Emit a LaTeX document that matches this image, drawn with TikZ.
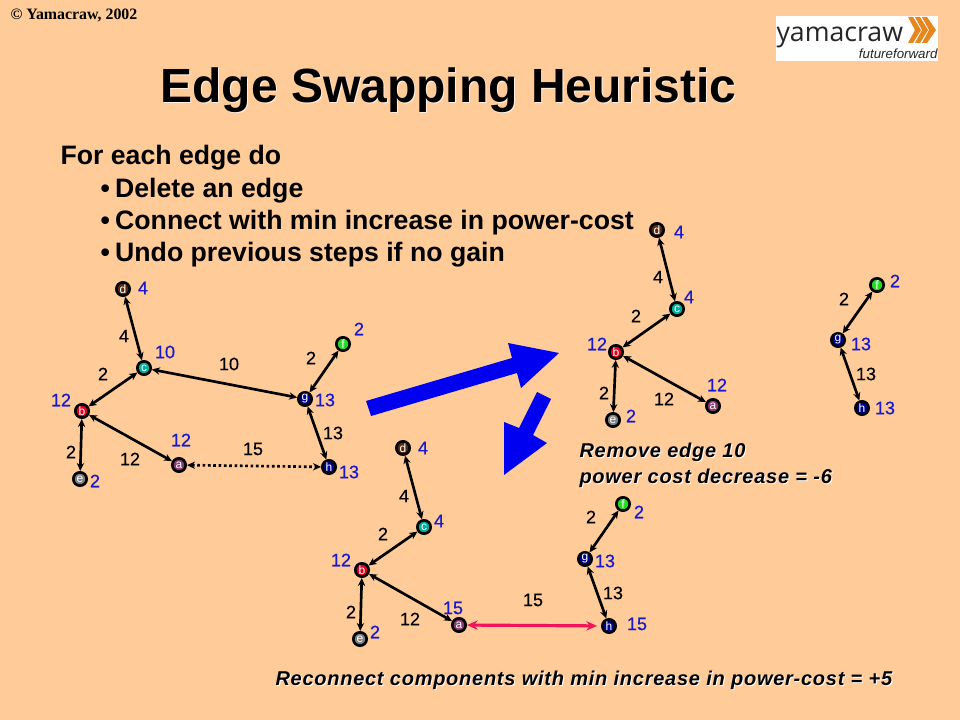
\documentclass[tikz,border=0pt]{standalone}
\usepackage{fontspec}
\setmainfont{Liberation Sans}
\newfontfamily\serifbold{Liberation Serif}
\newfontfamily\weightfont[FakeBold=0.35]{Liberation Sans}
\newfontfamily\costfont[FakeBold=0.7]{Liberation Sans}
\newfontfamily\logofont{Open Sans}
\newfontfamily\captionfont[LetterSpace=3.7]{Liberation Sans}
\usetikzlibrary{arrows.meta}
\definecolor{slidebg}{HTML}{FFCC99}
\definecolor{costblue}{HTML}{1A1ACC}
\definecolor{arrowblue}{HTML}{0000F0}
\definecolor{swapred}{HTML}{F0145A}
\definecolor{logoorange}{HTML}{E8861E}
\definecolor{cola}{HTML}{8A3A70}
\definecolor{colb}{HTML}{E00020}
\definecolor{colc}{HTML}{00B09A}
\definecolor{cold}{HTML}{5A2A10}
\definecolor{cole}{HTML}{808080}
\definecolor{colf}{HTML}{20DD20}
\definecolor{colg}{HTML}{000090}
\tikzset{every picture/.style={line width=0.75pt},
  vertex/.style={circle,draw=black,line width=2pt,minimum size=10pt,inner sep=0pt,text=white,font=\fontsize{9}{10}\selectfont},
  edgeline/.style={line width=2pt,{Stealth[length=6pt,width=5.5pt]}-{Stealth[length=6pt,width=5.5pt]}},
  weight/.style={inner sep=0pt,font=\fontsize{13.5}{14}\selectfont\weightfont},
  cost/.style={inner sep=0pt,text=costblue,font=\fontsize{13.5}{14}\selectfont\costfont},
  headline/.style={anchor=west,inner sep=0pt,font=\fontsize{20}{22}\selectfont\bfseries},
  caption/.style={anchor=west,inner sep=0pt,font=\fontsize{15}{16}\selectfont\captionfont\bfseries\itshape},
  bluearrow/.style={fill=arrowblue,draw=none}}
\begin{document}
\begin{tikzpicture}[x=0.75pt,y=0.75pt,yscale=-1,xscale=1]
\fill[slidebg] (0,0) rectangle (960,720);
\useasboundingbox (0,0) rectangle (960,720);

% Text Node
\node[inner sep=0pt,anchor=west,font=\fontsize{11.9}{12}\selectfont\serifbold\bfseries] (copyright) at (10,15) {© Yamacraw, 2002};

% Logo
\fill[white] (776,16) rectangle (938,61);
\node[inner sep=0pt,anchor=base west,font=\fontsize{20}{22}\selectfont\logofont,text=black!85] (logoname) at (776,42) {yamacraw};
\node[inner sep=0pt,anchor=base east,font=\fontsize{10}{12}\selectfont\itshape,text=black!85] (logotag) at (938,59) {futureforward};
\fill[logoorange] (908,17) -- (913,17) -- (921,30) -- (913,43) -- (908,43) -- (915,30) -- cycle;
\fill[logoorange] (915,17) -- (920,17) -- (928,30) -- (920,43) -- (915,43) -- (922,30) -- cycle;
\fill[logoorange] (922,17) -- (927,17) -- (936,30) -- (927,43) -- (922,43) -- (929,30) -- cycle;

% Title
\node[inner sep=0pt,font=\fontsize{36}{40}\selectfont\bfseries,text=white!75!slidebg] (titleshadow) at (449.5,91.5) {Edge Swapping Heuristic};
\node[inner sep=0pt,font=\fontsize{36}{40}\selectfont\bfseries] (title) at (448.5,90.5) {Edge Swapping Heuristic};

% Text Node
\node[headline] (line1) at (60,158) {For each edge do};
\node[headline] (line2) at (100,191) {•\hspace{4pt}Delete an edge};
\node[headline] (line3) at (100,223) {•\hspace{4pt}Connect with min increase in power-cost};
\node[headline] (line4) at (100,255) {•\hspace{4pt}Undo previous steps if no gain};

% Blue arrows
\fill[bluearrow] (366,401) -- (512,358) -- (508,343) -- (559,353) -- (521,388) -- (517,373) -- (371,416) -- cycle;
\fill[bluearrow] (537,392) -- (551,399) -- (533,435) -- (547,443) -- (504,475) -- (504,422) -- (519,428) -- cycle;

% Left graph
\node[vertex,fill=cola] (a1) at (179,465) {a};
\node[vertex,fill=colb] (b1) at (82,411) {b};
\node[vertex,fill=colc] (c1) at (144,368) {c};
\node[vertex,fill=cold] (d1) at (123,289) {d};
\node[vertex,fill=cole] (e1) at (80,479) {e};
\node[vertex,fill=colf] (f1) at (343,344) {f};
\node[vertex,fill=colg] (g1) at (305,399) {g};
\node[vertex,fill=colg] (h1) at (329,467) {h};
\draw[edgeline] (d1) -- (c1);
\draw[edgeline] (c1) -- (b1);
\draw[edgeline] (b1) -- (e1);
\draw[edgeline] (b1) -- (a1);
\draw[edgeline] (c1) -- (g1);
\draw[edgeline] (f1) -- (g1);
\draw[edgeline] (g1) -- (h1);
\draw[edgeline,dash pattern=on 2pt off 2pt] (a1) -- (h1);
\node[weight] (w1a) at (124,336) {4};
\node[weight] (w1b) at (103,374) {2};
\node[weight] (w1c) at (71,452) {2};
\node[weight] (w1d) at (130,459) {12};
\node[weight] (w1e) at (229,364) {10};
\node[weight] (w1f) at (311,358) {2};
\node[weight] (w1g) at (333,433) {13};
\node[weight] (w1h) at (253,449) {15};
\node[cost] (p1d) at (143,288) {4};
\node[cost] (p1c) at (165,352) {10};
\node[cost] (p1b) at (61,400) {12};
\node[cost] (p1e) at (95,481) {2};
\node[cost] (p1a) at (181,440) {12};
\node[cost] (p1f) at (359,329) {2};
\node[cost] (p1g) at (325,400) {13};
\node[cost] (p1h) at (349,472) {13};

% Bottom graph
\node[vertex,fill=cola] (a2) at (459,625) {a};
\node[vertex,fill=colb] (b2) at (362,570) {b};
\node[vertex,fill=colc] (c2) at (424,527) {c};
\node[vertex,fill=cold] (d2) at (403,448) {d};
\node[vertex,fill=cole] (e2) at (360,639) {e};
\node[vertex,fill=colf] (f2) at (623,504) {f};
\node[vertex,fill=colg] (g2) at (585,559) {g};
\node[vertex,fill=colg] (h2) at (609,626) {h};
\draw[edgeline] (d2) -- (c2);
\draw[edgeline] (c2) -- (b2);
\draw[edgeline] (b2) -- (e2);
\draw[edgeline] (b2) -- (a2);
\draw[edgeline] (f2) -- (g2);
\draw[edgeline] (g2) -- (h2);
\draw[line width=2.4pt,swapred,{Stealth[length=8pt,width=7pt]}-{Stealth[length=8pt,width=7pt]},shorten >=3pt] (a2) -- (h2);
\node[weight] (w2a) at (404,496) {4};
\node[weight] (w2b) at (383,534) {2};
\node[weight] (w2c) at (351,612) {2};
\node[weight] (w2d) at (410,619) {12};
\node[weight] (w2f) at (591,517) {2};
\node[weight] (w2g) at (613,593) {13};
\node[weight] (w2h) at (533,600) {15};
\node[cost] (p2d) at (423,448) {4};
\node[cost] (p2c) at (439,521) {4};
\node[cost] (p2b) at (341,560) {12};
\node[cost] (p2e) at (375,632) {2};
\node[cost] (p2a) at (453,608) {15};
\node[cost] (p2f) at (639,512) {2};
\node[cost] (p2g) at (605,561) {13};
\node[cost] (p2h) at (637,624) {15};

% Right graph
\node[vertex,fill=cola] (a3) at (713,406) {a};
\node[vertex,fill=colb] (b3) at (616,352) {b};
\node[vertex,fill=colc] (c3) at (677,309) {c};
\node[vertex,fill=cold] (d3) at (657,230) {d};
\node[vertex,fill=cole] (e3) at (613,420) {e};
\node[vertex,fill=colf] (f3) at (877,285) {f};
\node[vertex,fill=colg] (g3) at (838,340) {g};
\node[vertex,fill=colg] (h3) at (862,408) {h};
\draw[edgeline] (d3) -- (c3);
\draw[edgeline] (c3) -- (b3);
\draw[edgeline] (b3) -- (e3);
\draw[edgeline] (b3) -- (a3);
\draw[edgeline] (f3) -- (g3);
\draw[edgeline] (g3) -- (h3);
\node[weight] (w3a) at (658,277) {4};
\node[weight] (w3b) at (636,316) {2};
\node[weight] (w3c) at (604,393) {2};
\node[weight] (w3d) at (664,399) {12};
\node[weight] (w3f) at (844,299) {2};
\node[weight] (w3g) at (866,374) {13};
\node[cost] (p3d) at (679,232) {4};
\node[cost] (p3c) at (689,297) {4};
\node[cost] (p3b) at (597,344) {12};
\node[cost] (p3e) at (631,416) {2};
\node[cost] (p3a) at (717,385) {12};
\node[cost] (p3f) at (895,281) {2};
\node[cost] (p3g) at (861,344) {13};
\node[cost] (p3h) at (885,408) {13};

% Text Node
\node[caption,text=white] (cap1s) at (580,453) {Remove edge 10};
\node[caption] (cap1) at (579,452) {Remove edge 10};
\node[caption,text=white] (cap2s) at (580,479) {power cost decrease = -6};
\node[caption] (cap2) at (579,478) {power cost decrease = -6};
\node[caption,text=white] (cap3s) at (276,681) {Reconnect components with min increase in power-cost = +5};
\node[caption] (cap3) at (275,680) {Reconnect components with min increase in power-cost = +5};
\end{tikzpicture}
\end{document}
